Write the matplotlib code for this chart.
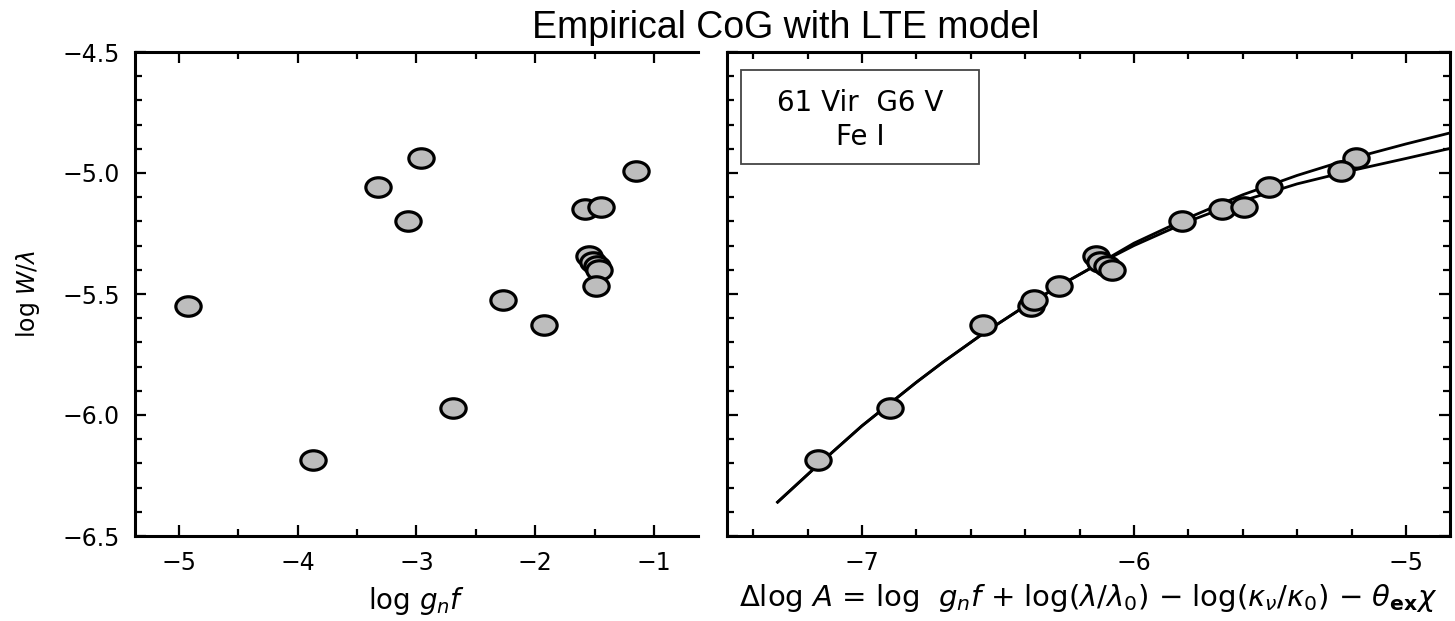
import matplotlib
matplotlib.use('Agg')
import matplotlib.pyplot as plt
from matplotlib.markers import MarkerStyle
from matplotlib.transforms import Affine2D
from matplotlib.ticker import MultipleLocator
from matplotlib.patches import Rectangle

plt.rcParams['font.family'] = ['DejaVu Sans']
plt.rcParams['mathtext.fontset'] = 'custom'
plt.rcParams['mathtext.rm'] = 'DejaVu Sans'
plt.rcParams['mathtext.it'] = 'DejaVu Sans:italic'
plt.rcParams['mathtext.bf'] = 'DejaVu Sans:bold'

# 谱线数据（Fe I，61 Vir）
log_gf = [-4.92, -3.87, -3.32, -2.96, -3.07, -2.69, -2.27, -1.93,
          -1.58, -1.45, -1.15, -1.545, -1.51, -1.48, -1.46, -1.49]
log_w = [-5.548, -6.186, -5.056, -4.936, -5.20, -5.97, -5.526, -5.63,
         -5.148, -5.14, -4.99, -5.345, -5.366, -5.386, -5.40, -5.465]
delta_log_a = [-6.378, -7.16, -5.504, -5.184, -5.825, -6.896, -6.366, -6.554,
               -5.675, -5.596, -5.24, -6.14, -6.125, -6.10, -6.08, -6.277]

# 理论生长曲线（从图上读取的点）
curve_common_x = [-7.31, -7.16, -7.0, -6.9, -6.8, -6.7, -6.55, -6.4, -6.28, -6.13]
curve_common_y = [-6.36, -6.205, -6.045, -5.955, -5.865, -5.78, -5.66, -5.55, -5.47, -5.375]
curve_tail_x = [-6.0, -5.8, -5.6, -5.4, -5.2, -5.0, -4.84]
curve_upper_y = [-5.29, -5.185, -5.09, -5.01, -4.94, -4.88, -4.835]
curve_lower_y = [-5.30, -5.20, -5.115, -5.045, -4.99, -4.94, -4.899]

left_xticks = [-5, -4, -3, -2, -1]
right_xticks = [-7, -6, -5]
yticks = [-6.5, -6.0, -5.5, -5.0, -4.5]

fig = plt.figure(figsize=(14.55, 6.21), dpi=100)
ax1 = fig.add_axes([135 / 1455, 1 - 536 / 621, 563 / 1455, 484 / 621])
ax2 = fig.add_axes([727 / 1455, 1 - 536 / 621, 723 / 1455, 484 / 621])

# 椭圆形标记（原图略被横向拉伸）
mk = MarkerStyle('o', transform=Affine2D().scale(1.3, 1.0))
mk_style = dict(linestyle='none', marker=mk, markersize=14, markerfacecolor='#bdbdbd',
                markeredgecolor='black', markeredgewidth=2.3, zorder=3)

# 左图：log W/λ vs log gf
ax1.plot(log_gf, log_w, **mk_style)
ax1.set_xlim(-5.37, -0.63)
ax1.set_ylim(-6.5, -4.5)
ax1.set_xticks(left_xticks)
ax1.set_xticklabels([f'\u2212{abs(v)}' for v in left_xticks])
ax1.set_yticks(yticks)
ax1.set_yticklabels([f'\u2212{abs(v):.1f}' for v in yticks])
ax1.xaxis.set_minor_locator(MultipleLocator(0.5))
ax1.yaxis.set_minor_locator(MultipleLocator(0.1))
ax1.spines['right'].set_visible(False)
ax1.set_xlabel(r'log $g_nf$', fontsize=20, labelpad=7)

# 右图：经验生长曲线
upper_x = curve_common_x + curve_tail_x
upper_y = curve_common_y + curve_upper_y
lower_y = curve_common_y + curve_lower_y
ax2.plot(upper_x, upper_y, color='black', lw=2.0, zorder=2)
ax2.plot(upper_x, lower_y, color='black', lw=2.0, zorder=2)
ax2.plot(delta_log_a, log_w, **mk_style)
ax2.set_xlim(-7.496, -4.838)
ax2.set_ylim(-6.5, -4.5)
ax2.set_xticks(right_xticks)
ax2.set_xticklabels([f'\u2212{abs(v)}' for v in right_xticks])
ax2.set_yticks(yticks)
ax2.xaxis.set_minor_locator(MultipleLocator(0.2))
ax2.yaxis.set_minor_locator(MultipleLocator(0.1))
ax2.tick_params(labelleft=False)
ax2.set_xlabel(r'$\Delta$log $A$ = log  $g_nf$ + log($\lambda/\lambda_0$) $-$ log($\kappa_\nu/\kappa_0$) $-$ $\theta_{\mathbf{ex}}\chi$',
               fontsize=21, labelpad=5)

for ax in (ax1, ax2):
    for sp in ax.spines.values():
        sp.set_linewidth(2.2)
    ax.tick_params(which='both', direction='in', top=True, width=1.6, labelsize=17)
    ax.tick_params(which='major', length=8, pad=11)
    ax.tick_params(which='minor', length=5)
ax2.tick_params(which='both', right=True)
ax1.tick_params(which='both', right=False)

# 图例框
ax2.add_patch(Rectangle((0.0194, 0.7686), 0.329, 0.1942, transform=ax2.transAxes,
                        fill=False, edgecolor='#444444', linewidth=1.3, zorder=4))
ax2.text(0.184, 0.8946, '61 Vir  G6 V', transform=ax2.transAxes, ha='center', va='center', fontsize=20)
ax2.text(0.184, 0.8244, 'Fe I', transform=ax2.transAxes, ha='center', va='center', fontsize=20)

fig.text(0.0192, 0.527, r'log $W/\lambda$', rotation=90, ha='center', va='center', fontsize=17)
fig.text(0.540, 1 - 38 / 621, 'Empirical CoG with LTE model', ha='center', va='baseline',
         fontsize=27, family=['Liberation Sans', 'DejaVu Sans'])

fig.savefig('out.png', dpi=100)
